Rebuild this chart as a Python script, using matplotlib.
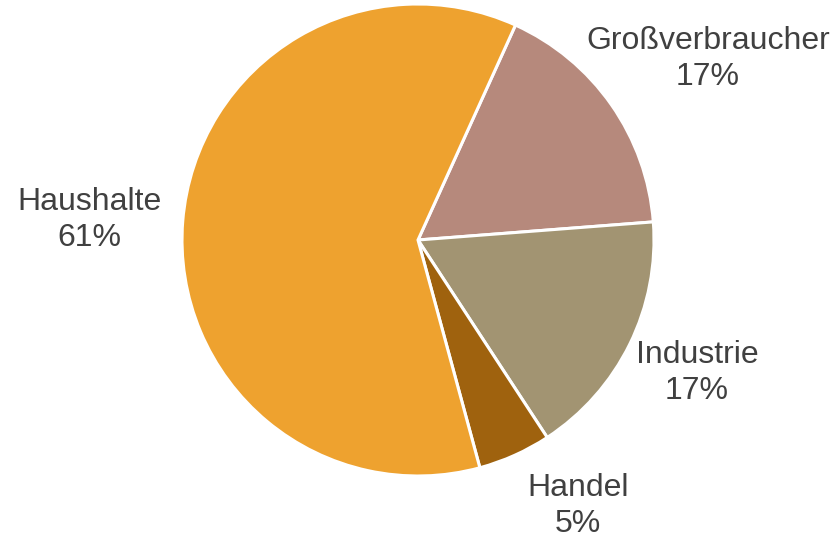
import matplotlib
matplotlib.use("Agg")
import matplotlib.pyplot as plt

categories = ["Großverbraucher", "Industrie", "Handel", "Haushalte"]
values = [17, 17, 5, 61]
colors = ["#B6897C", "#A29472", "#9F620E", "#EEA22F"]

plt.rcParams['font.family'] = ['Liberation Sans', 'DejaVu Sans']

W, H = 836, 538
fig = plt.figure(figsize=(W / 100, H / 100), dpi=100)
cx, cy, r = 418, 240, 236
ax = fig.add_axes([(cx - r) / W, 1 - (cy + r) / H, 2 * r / W, 2 * r / H])

wedges, _ = ax.pie(values, colors=colors, startangle=65.6, counterclock=False,
                   wedgeprops=dict(edgecolor="white", linewidth=2.2))
ax.set_xlim(-1, 1)
ax.set_ylim(-1, 1)
ax.set_aspect("equal")
ax.axis("off")

label_px = [(708, 59), (697, 373), (578, 506), (89, 220)]
for cat, v, (px, py) in zip(categories, values, label_px):
    x = (px - cx) / r
    y = (cy - py) / r
    ax.text(x, y, f"{cat}\n{v}%", ha="center", va="center", fontsize=23,
            color="#404040", linespacing=1.3, clip_on=False)

fig.savefig("out.png", dpi=100)
